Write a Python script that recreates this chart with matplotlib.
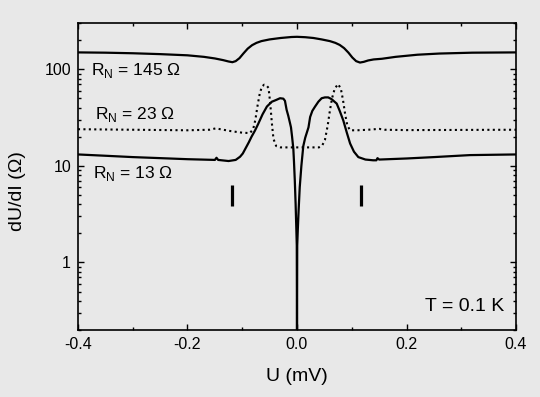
import matplotlib
matplotlib.use('Agg')
import matplotlib.pyplot as plt
from matplotlib.ticker import LogLocator, NullFormatter, MultipleLocator

# dU/dI curves (U in mV, R in Ohm)
u_145 = [-0.40, -0.35, -0.30, -0.25, -0.20, -0.17, -0.15, -0.135, -0.125, -0.118,
         -0.112, -0.105, -0.098, -0.090, -0.082, -0.074, -0.065, -0.050, -0.030,
         -0.010, 0.000, 0.015, 0.030, 0.045, 0.060, 0.070, 0.078, 0.086, 0.094,
         0.101, 0.108, 0.115, 0.122, 0.130, 0.140, 0.155, 0.180, 0.220, 0.260,
         0.320, 0.400]
r_145 = [149, 148, 146, 143, 139, 134, 129, 124, 120, 118,
         121, 130, 145, 163, 177, 187, 195, 203, 210,
         215, 216, 214, 210, 203, 195, 187, 178, 165, 148,
         132, 121, 117, 119, 123, 126, 128, 134, 141, 145,
         148, 149]

u_23 = [-0.40, -0.30, -0.20, -0.16, -0.148, -0.140, -0.120, -0.100, -0.086, -0.080,
        -0.076, -0.072, -0.068, -0.064, -0.060, -0.056, -0.052, -0.049, -0.046,
        -0.043, -0.038, -0.030, 0.000, 0.040, 0.046, 0.051, 0.056, 0.060, 0.064,
        0.069, 0.075, 0.080, 0.084, 0.088, 0.092, 0.097, 0.110, 0.130, 0.150,
        0.160, 0.200, 0.300, 0.400]
r_23 = [23.9, 23.6, 23.3, 23.6, 24.4, 23.9, 22.8, 22.0, 21.8, 24,
        30, 42, 56, 66, 69, 68, 64, 45, 28,
        19, 16, 15.5, 15.5, 15.5, 16.2, 18.5, 26, 37, 50,
        63, 70, 63, 48, 34, 26, 23.3, 23.3, 23.6, 24.1,
        23.6, 23.4, 23.5, 23.6]

u_13 = [-0.40, -0.35, -0.30, -0.25, -0.20, -0.15, -0.147, -0.144, -0.125, -0.112,
        -0.104, -0.099, -0.093, -0.088, -0.083, -0.077, -0.071, -0.063, -0.055,
        -0.046, -0.038, -0.031, -0.025, -0.022, -0.019, -0.016, -0.013, -0.011,
        -0.009, -0.0067, -0.0055, -0.004, -0.0025, -0.0012, -0.0004, 0.0,
        0.0004, 0.0015, 0.003, 0.005, 0.008, 0.0115, 0.015, 0.021, 0.024, 0.028,
        0.033, 0.039, 0.045, 0.051, 0.057, 0.063, 0.0725, 0.078, 0.0845, 0.091,
        0.097, 0.104, 0.112, 0.125, 0.139, 0.145, 0.147, 0.150, 0.20, 0.25,
        0.316, 0.40]
r_13 = [13.1, 12.7, 12.3, 12.0, 11.7, 11.5, 12.1, 11.5, 11.2, 11.5,
        12.4, 13.4, 15.5, 17.5, 20, 23, 27, 34, 41,
        46, 48, 50, 49.5, 47, 38, 33, 28, 25,
        20, 15, 11, 7, 4, 2.2, 1.5, 0.15,
        1.5, 2.2, 3.5, 6, 10, 16, 19.5, 25, 32, 37,
        41, 46, 50, 51, 51, 49, 44, 37, 29.5, 22,
        17, 14, 12.3, 11.6, 11.4, 11.4, 12, 11.6, 11.9, 12.3,
        12.9, 13.1]

# gap markers
mark_u = [-0.118, 0.117]
mark_lo = 3.8
mark_hi = 6.4

labels = ['R$_\\mathrm{N}$ = 145 \u03a9', 'R$_\\mathrm{N}$ = 23 \u03a9', 'R$_\\mathrm{N}$ = 13 \u03a9']
label_u = [-0.377, -0.369, -0.373]
label_r = [86.6, 30.8, 7.5]

x_ticks = [-0.4, -0.2, 0.0, 0.2, 0.4]
x_ticklabels = ['-0.4', '-0.2', '0.0', '0.2', '0.4']
y_ticks = [1, 10, 100]
y_ticklabels = ['1', '10', '100']

bg = '#e8e8e8'
plt.rcParams['font.family'] = ['Liberation Sans', 'DejaVu Sans']
plt.rcParams['mathtext.fontset'] = 'custom'
plt.rcParams['mathtext.rm'] = 'Liberation Sans'

fig = plt.figure(figsize=(5.4, 3.97), dpi=100, facecolor=bg)
ax = fig.add_axes([0.1444, 0.1688, 0.8112, 0.7732], facecolor=bg)

ax.plot(u_145, r_145, color='black', lw=1.6)
ax.plot(u_23, r_23, color='black', lw=1.5, ls=(0, (1, 1.6)))
ax.plot(u_13, r_13, color='black', lw=1.6)
ax.vlines(mark_u, mark_lo, mark_hi, color='black', lw=2.3)

for txt, u, r in zip(labels, label_u, label_r):
    ax.text(u, r, txt, fontsize=12.5, va='baseline', ha='left')
ax.text(0.973, 0.062, 'T = 0.1 K', transform=ax.transAxes, fontsize=14,
        ha='right', va='baseline')

ax.set_yscale('log')
ax.set_xlim(-0.4, 0.4)
ax.set_ylim(0.2, 300)
ax.set_xticks(x_ticks)
ax.set_xticklabels(x_ticklabels)
ax.xaxis.set_minor_locator(MultipleLocator(0.1))
ax.set_yticks(y_ticks)
ax.set_yticklabels(y_ticklabels)
ax.yaxis.set_minor_locator(LogLocator(base=10, subs=range(2, 10)))
ax.yaxis.set_minor_formatter(NullFormatter())

ax.tick_params(which='both', direction='in', top=True, right=True, width=1,
               labelsize=11.5, pad=5)
ax.tick_params(which='major', length=4.5)
ax.tick_params(which='minor', length=2.5)
for s in ax.spines.values():
    s.set_linewidth(1.2)

ax.set_xlabel('U (mV)', fontsize=14)
ax.set_ylabel('dU/dI (\u03a9)', fontsize=14)
ax.xaxis.set_label_coords(0.5, -0.125)
ax.yaxis.set_label_coords(-0.118, 0.453)

fig.savefig('out.png', dpi=100, facecolor=bg)
